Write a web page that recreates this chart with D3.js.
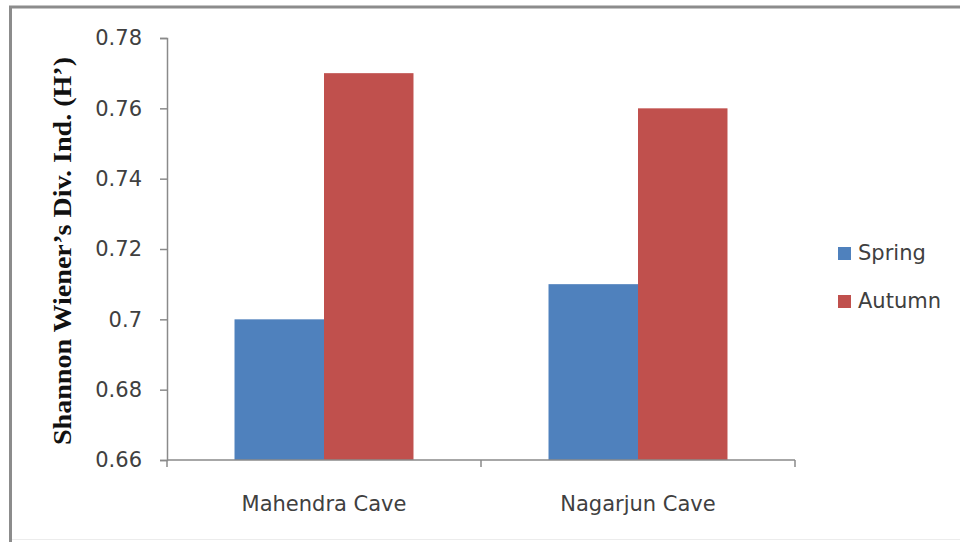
<!DOCTYPE html>
<html>
<head>
<meta charset="utf-8">
<script src="https://cdn.jsdelivr.net/npm/d3@7/dist/d3.min.js"></script>
<style>
  html, body { margin: 0; padding: 0; background: #fff; }
  svg { display: block; }
</style>
</head>
<body>
<svg id="chart" width="960" height="542"></svg>
<script>
// Shannon-Wiener diversity per cave and season
const caves = ["Mahendra Cave", "Nagarjun Cave"];
const seasons = ["Spring", "Autumn"];
const springValues = [0.70, 0.71];
const autumnValues = [0.77, 0.76];
const yTicks = [0.66, 0.68, 0.70, 0.72, 0.74, 0.76, 0.78];
const yTickLabels = ["0.66", "0.68", "0.7", "0.72", "0.74", "0.76", "0.78"];
const seasonColors = ["#4f81bd", "#c0504d"];

const rows = caves.map((c, i) => ({ cave: c, values: [springValues[i], autumnValues[i]] }));

const svg = d3.select("#chart");
const W = 960, H = 542;
const plot = { left: 167, right: 795, top: 38, bottom: 460 };

// outer frame
svg.append("rect").attr("x", 0).attr("y", 0).attr("width", W).attr("height", H).attr("fill", "#fff");
svg.append("line").attr("x1", 10.5).attr("x2", 10.5).attr("y1", 6).attr("y2", H)
  .attr("stroke", "#8c8c8c").attr("stroke-width", 3);
svg.append("line").attr("x1", 9).attr("x2", W).attr("y1", 7).attr("y2", 7)
  .attr("stroke", "#8c8c8c").attr("stroke-width", 3);
svg.append("line").attr("x1", 12).attr("x2", W).attr("y1", 539.5).attr("y2", 539.5)
  .attr("stroke", "#ececec").attr("stroke-width", 1);

const x0 = d3.scaleBand().domain(caves).range([plot.left, plot.right]).paddingInner(0.43).paddingOuter(0.215);
const x1 = d3.scaleBand().domain(seasons).range([0, x0.bandwidth()]);
const y = d3.scaleLinear().domain([0.66, 0.78]).range([plot.bottom, plot.top]);

// bars
const groups = svg.append("g").selectAll("g").data(rows).join("g")
  .attr("transform", d => `translate(${x0(d.cave)},0)`);
groups.selectAll("rect").data(d => d.values.map((v, k) => ({ season: seasons[k], value: v, k })))
  .join("rect")
  .attr("x", d => x1(d.season))
  .attr("width", x1.bandwidth())
  .attr("y", d => y(d.value))
  .attr("height", d => y(0.66) - y(d.value))
  .attr("fill", d => seasonColors[d.k]);

const axisColor = "#8a8a8a";
const tickFont = "'DejaVu Sans', sans-serif";
const tickSize = "21px";

// y axis
const yAxis = svg.append("g").attr("transform", `translate(${plot.left},0)`)
  .call(d3.axisLeft(y).tickValues(yTicks).tickFormat((d, i) => yTickLabels[i]).tickSizeOuter(0).tickSize(7).tickPadding(18));
yAxis.select(".domain").attr("stroke", axisColor).attr("stroke-width", 1.5);
yAxis.selectAll(".tick line").attr("stroke", axisColor).attr("stroke-width", 1.5);
yAxis.selectAll(".tick text").attr("fill", "#404040").style("font-family", tickFont).style("font-size", tickSize);

// x axis with tick marks at category boundaries
const xAxis = svg.append("g").attr("transform", `translate(0,${plot.bottom})`);
xAxis.append("line").attr("x1", plot.left).attr("x2", plot.right).attr("y1", 0).attr("y2", 0)
  .attr("stroke", axisColor).attr("stroke-width", 1.5);
const boundaries = [plot.left, (x0(caves[0]) + x0.bandwidth() + x0(caves[1])) / 2, plot.right];
xAxis.selectAll("line.b").data(boundaries).join("line").attr("class", "b")
  .attr("x1", d => d).attr("x2", d => d).attr("y1", 0).attr("y2", 7)
  .attr("stroke", axisColor).attr("stroke-width", 1.5);
xAxis.selectAll("text").data(caves).join("text")
  .attr("x", d => x0(d) + x0.bandwidth() / 2)
  .attr("y", 51)
  .attr("text-anchor", "middle")
  .attr("fill", "#404040")
  .style("font-family", tickFont).style("font-size", tickSize)
  .text(d => d);

// y axis title
svg.append("text")
  .attr("transform", `translate(71,${(57 + 445) / 2}) rotate(-90)`)
  .attr("text-anchor", "middle")
  .style("font-family", "'Liberation Serif', 'Times New Roman', serif")
  .style("font-weight", "bold").style("font-size", "26px")
  .attr("textLength", 388).attr("lengthAdjust", "spacingAndGlyphs")
  .attr("fill", "#111")
  .text("Shannon Wiener\u2019s Div. Ind. (H\u2019)");

// legend
const legend = svg.append("g").attr("transform", "translate(838,247)");
const li = legend.selectAll("g").data(seasons).join("g")
  .attr("transform", (d, i) => `translate(0,${i * 48})`);
li.append("rect").attr("width", 13).attr("height", 13).attr("fill", (d, i) => seasonColors[i]);
li.append("text").attr("x", 20).attr("y", 13)
  .attr("fill", "#404040")
  .style("font-family", tickFont).style("font-size", tickSize)
  .text(d => d);
</script>
</body>
</html>
